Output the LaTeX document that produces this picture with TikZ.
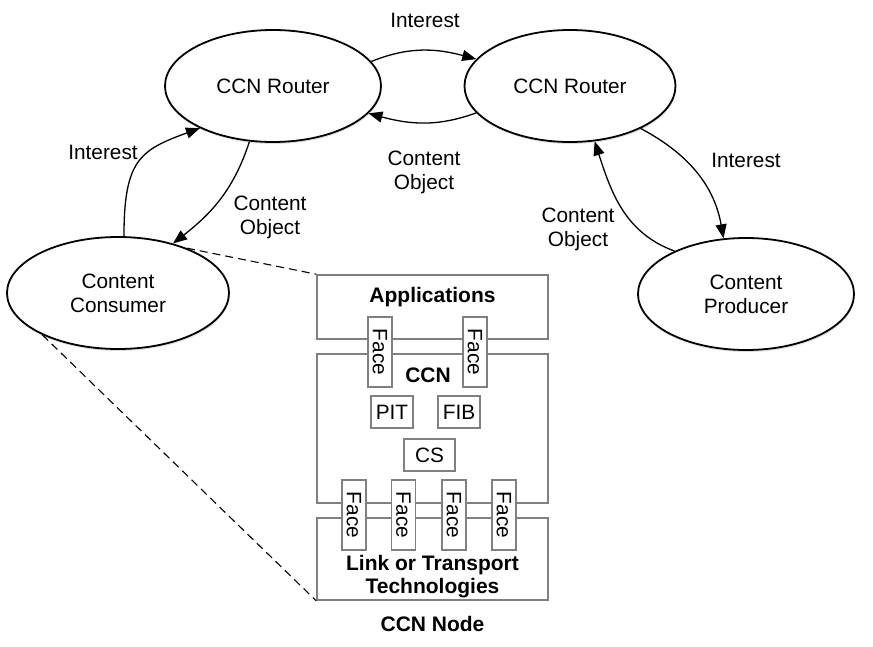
\documentclass[tikz,border=0pt]{standalone}
\usepackage{fontspec}
\setmainfont{Liberation Sans}
\usetikzlibrary{shapes.geometric,arrows.meta,shadows}
\begin{document}
\begin{tikzpicture}[x=1pt,y=-1pt,
  every node/.style={font=\fontsize{20.8}{24}\selectfont},
  ell/.style={ellipse,draw,line width=1.8pt,fill=white,minimum width=216pt,minimum height=112pt,inner sep=0pt,align=center,
    drop shadow={opacity=0.25,shadow xshift=0.6pt,shadow yshift=-2pt}},
  lbl/.style={align=center,inner sep=0pt},
  bold/.style={align=center,inner sep=0pt,font=\fontsize{21}{23.5}\selectfont\bfseries},
  box/.style={draw=black!50,line width=1.6pt,inner sep=0pt},
  facebox/.style={box,fill=white,rotate=-90,minimum width=70pt,minimum height=24pt},
  smallbox/.style={box,fill=white,minimum height=32pt},
  conn/.style={line width=1.3pt,-{Triangle[length=14pt,width=11pt]}},
  dashline/.style={line width=1.1pt,dash pattern=on 8pt off 5pt}]
\useasboundingbox (0,0) rectangle (873,647);

% ellipses
\node[ell] (r1) at (273,86) {CCN Router};
\node[ell,minimum width=211pt] (r2) at (570,86) {CCN Router};
\node[ell,minimum width=222pt] (cc) at (118,293) {Content\\Consumer};
\node[ell] (cp) at (746,294) {Content\\Producer};

% node box
\node[box,minimum width=231pt,minimum height=64pt] (app) at (432.5,307) {};
\node[box,minimum width=231pt,minimum height=149pt] (ccn) at (432.5,428.5) {};
\node[box,minimum width=231pt,minimum height=82pt] (link) at (432.5,559) {};

\node[facebox] (f1) at (380,352) {Face};
\node[facebox] (f2) at (475,352) {Face};
\node[facebox] (f3) at (354,515) {Face};
\node[facebox] (f4) at (403.5,515) {Face};
\node[facebox] (f5) at (454,515) {Face};
\node[facebox] (f6) at (504,515) {Face};

\node[smallbox,minimum width=42pt] (pit) at (392,412) {PIT};
\node[smallbox,minimum width=42pt] (fib) at (459,412) {FIB};
\node[smallbox,minimum width=51pt] (cs) at (429.5,455) {CS};

\node[bold] (tapp) at (432.5,297) {Applications};
\node[bold] (tccn) at (428,375) {CCN};
\node[bold] (tlink) at (432.5,576.5) {Link or Transport\\Technologies};
\node[bold] (tnode) at (432.5,624) {CCN Node};

% dashed zoom lines
\draw[dashline] (cc.33) -- (app.north west);
\draw[dashline] (cc.209) -- (link.south west);

% connectors
\draw[conn] (r1.14) to[out=22,in=165] (r2.164);
\draw[conn] (r2.196) to[out=200,in=-15] (r1.-16);
\draw[conn] (cc.84) .. controls (124,160) and (140,150) .. (r1.210);
\draw[conn] (r1.247) to[out=-108,in=38] (cc.42);
\draw[conn] (r2.-31) to[out=-28,in=100] (cp.112);
\draw[conn] (cp.149) to[out=160,in=-72] (r2.-66);

% labels
\node[lbl] (l1) at (425,20) {Interest};
\node[lbl] (l2) at (424,172) {Content\\Object};
\node[lbl] (l3) at (103,152) {Interest};
\node[lbl] (l4) at (270,217.5) {Content\\Object};
\node[lbl] (l5) at (746,160) {Interest};
\node[lbl] (l6) at (578,229.5) {Content\\Object};
\end{tikzpicture}
\end{document}
